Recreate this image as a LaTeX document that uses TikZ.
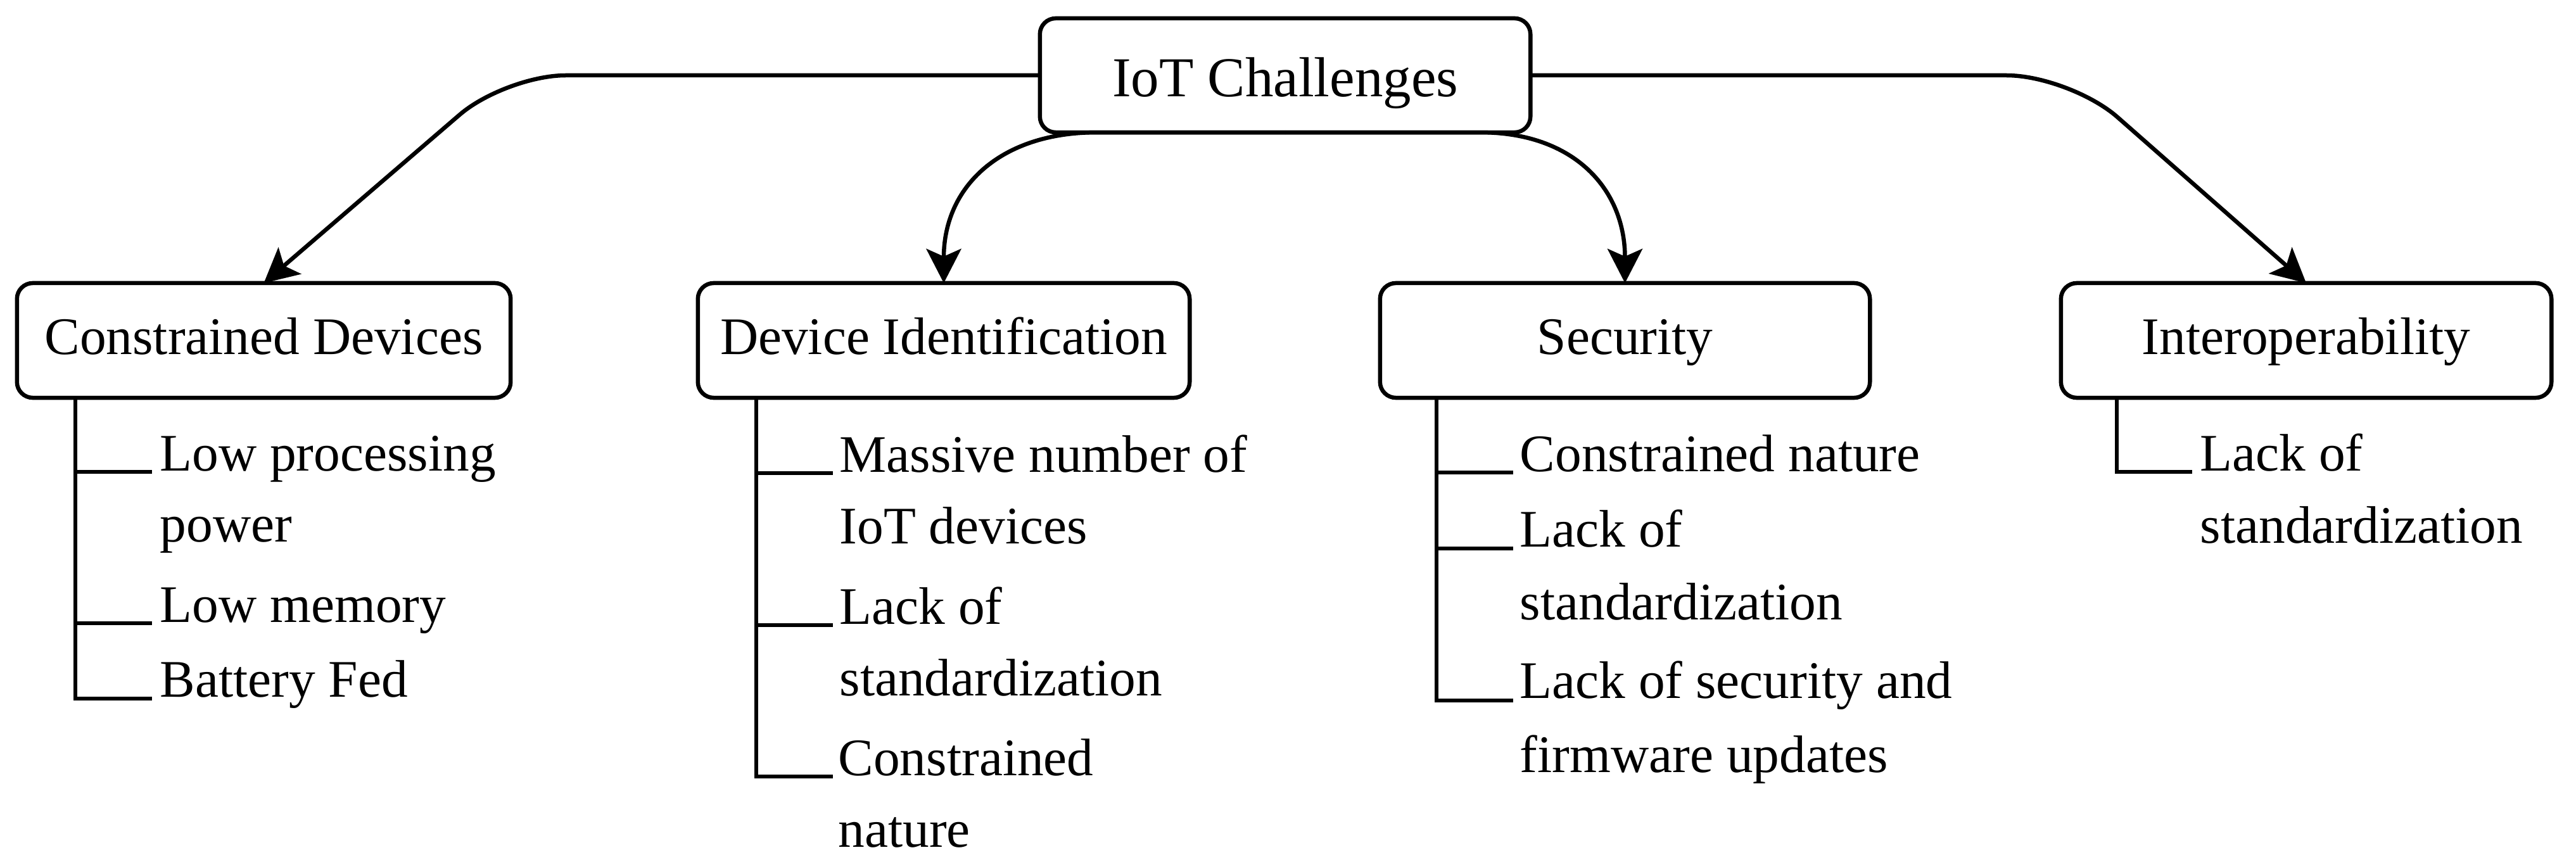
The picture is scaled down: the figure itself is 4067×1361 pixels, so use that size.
\documentclass[tikz,border=0pt]{standalone}
\usepackage{fontspec}
\setmainfont{Liberation Serif}
\usetikzlibrary{arrows.meta}
\begin{document}
\begin{tikzpicture}[x=0.01cm,y=0.01cm,
  box/.style={draw, line width=0.065cm, rounded corners=0.25cm, inner sep=0pt, outer sep=0pt,
    minimum height=1.81cm, font=\fontsize{23.7pt}{28pt}\selectfont, text height=17.06pt, text depth=4.74pt},
  topbox/.style={box, minimum height=1.80cm, font=\fontsize{25.3pt}{30pt}\selectfont, text height=24pt, text depth=4.8pt},
  item/.style={inner sep=0pt, anchor=base west, font=\fontsize{23.7pt}{28pt}\selectfont},
  tree/.style={line width=0.065cm},
  arr/.style={line width=0.065cm, -{Stealth[length=0.54cm,width=0.55cm,inset=0.12cm]}}]
\useasboundingbox (0,0) rectangle (4067,-1361);

% boxes
\node[topbox, minimum width=7.74cm] (iot) at (2029,-119) {IoT Challenges};
\node[box, minimum width=7.79cm] (cd)  at (416.5,-537.5) {Constrained Devices};
\node[box, minimum width=7.76cm] (di)  at (1490,-537.5) {Device Identification};
\node[box, minimum width=7.73cm] (sec) at (2565.5,-537.5) {Security};
\node[box, minimum width=7.74cm] (int) at (3641,-537.5) {Interoperability};

% connectors
\coordinate (lk) at (798,-119);
\coordinate (rk) at (3268,-119);
\draw[arr, rounded corners=0.95cm] (iot.west) -- (lk) -- (cd.north);
\draw[arr, rounded corners=1cm] (iot.east) -- (rk) -- (int.north);
\draw[arr] (iot.south) -- ++(-297,0) to[out=180,in=90,looseness=1.15] (di.north);
\draw[arr] (iot.south) -- ++(308,0) to[out=0,in=90,looseness=1.15] (sec.north);

% Constrained Devices items
\coordinate (cdx) at (119,0);
\node[item] (cd1)  at (252,-743)  {Low processing};
\node[item] (cd1b) at (252,-855)  {power};
\node[item] (cd2)  at (252,-982)  {Low memory};
\node[item] (cd3)  at (252,-1100) {Battery Fed};
\coordinate (cdt1) at ([xshift=-0.12cm,yshift=-0.02cm]cd1.base west);
\coordinate (cdt2) at ([xshift=-0.12cm,yshift=-0.02cm]cd2.base west);
\coordinate (cdt3) at ([xshift=-0.12cm,yshift=-0.03cm]cd3.base west);
\draw[tree] (cd.south -| cdx) |- (cdt3);
\draw[tree] (cdt1 -| cdx) -- (cdt1);
\draw[tree] (cdt2 -| cdx) -- (cdt2);

% Device Identification items
\coordinate (dix) at (1194,0);
\node[item] (di1)  at (1325,-745)  {Massive number of};
\node[item] (di1b) at (1325,-858)  {IoT devices};
\node[item] (di2)  at (1325,-985)  {Lack of};
\node[item] (di2b) at (1325,-1098) {standardization};
\node[item] (di3)  at (1323,-1224) {Constrained};
\node[item] (di3b) at (1323,-1337) {nature};
\coordinate (dit1) at ([xshift=-0.10cm,yshift=-0.02cm]di1.base west);
\coordinate (dit2) at ([xshift=-0.10cm,yshift=-0.02cm]di2.base west);
\coordinate (dit3) at ([xshift=-0.08cm,yshift=-0.02cm]di3.base west);
\draw[tree] (di.south -| dix) |- (dit3);
\draw[tree] (dit1 -| dix) -- (dit1);
\draw[tree] (dit2 -| dix) -- (dit2);

% Security items
\coordinate (sex) at (2268,0);
\node[item] (se1)  at (2399,-744)  {Constrained nature};
\node[item] (se2)  at (2399,-863)  {Lack of};
\node[item] (se2b) at (2399,-978)  {standardization};
\node[item] (se3)  at (2399,-1102) {Lack of security and};
\node[item] (se3b) at (2399,-1219) {firmware updates};
\coordinate (set1) at ([xshift=-0.10cm,yshift=-0.02cm]se1.base west);
\coordinate (set2) at ([xshift=-0.10cm,yshift=-0.03cm]se2.base west);
\coordinate (set3) at ([xshift=-0.10cm,yshift=-0.04cm]se3.base west);
\draw[tree] (sec.south -| sex) |- (set3);
\draw[tree] (set1 -| sex) -- (set1);
\draw[tree] (set2 -| sex) -- (set2);

% Interoperability items
\coordinate (inx) at (3342,0);
\node[item] (in1)  at (3473,-743) {Lack of};
\node[item] (in1b) at (3473,-857) {standardization};
\coordinate (int1) at ([xshift=-0.12cm,yshift=-0.02cm]in1.base west);
\draw[tree] (int.south -| inx) |- (int1);
\end{tikzpicture}
\end{document}
